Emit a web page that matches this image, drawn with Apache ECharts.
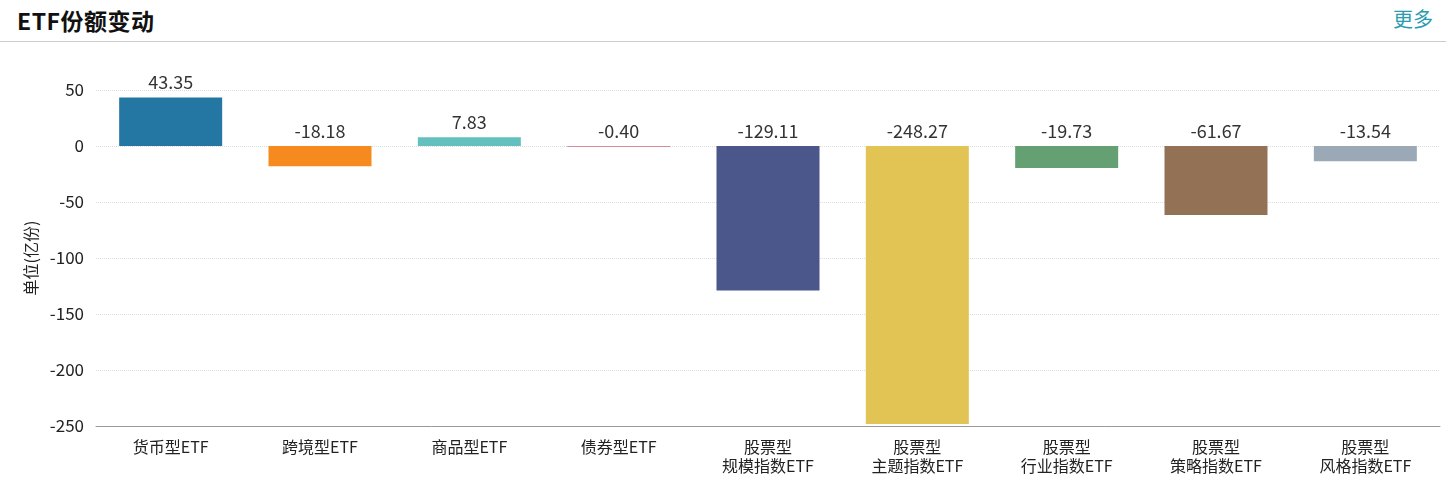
<!DOCTYPE html>
<html><head><meta charset="utf-8">
<script src="https://cdn.jsdelivr.net/npm/echarts@6/dist/echarts.min.js"></script>
<style>
html,body{margin:0;padding:0;background:#fff;width:1446px;height:498px;overflow:hidden;font-family:"Noto Sans CJK SC",sans-serif;}
#hdr{position:absolute;left:0;top:0;width:1446px;height:41px;border-bottom:1px solid #ccc;}
#title{position:absolute;left:17px;top:3px;font-size:23px;font-weight:bold;color:#111;font-family:"Noto Sans CJK SC",sans-serif;letter-spacing:0.5px;}
#more{position:absolute;right:13px;top:4px;font-size:20px;color:#2a9bb0;font-family:"Noto Sans CJK SC",sans-serif;}
#chart{position:absolute;left:0;top:42px;width:1446px;height:456px;}
</style></head>
<body>
<div id="hdr"><div id="title">ETF份额变动</div><div id="more">更多</div></div>
<div id="chart"></div>
<script>
var categories = ['货币型ETF','跨境型ETF','商品型ETF','债券型ETF','股票型\n规模指数ETF','股票型\n主题指数ETF','股票型\n行业指数ETF','股票型\n策略指数ETF','股票型\n风格指数ETF'];
var values = [43.35, -18.18, 7.83, -0.40, -129.11, -248.27, -19.73, -61.67, -13.54];
var colors = ['#2476a3','#f68a1e','#63c0bf','#d68b9b','#4b568b','#e2c455','#64a072','#937154','#9ba8b6'];
var yTicks = [50, 0, -50, -100, -150, -200, -250];

var chart = echarts.init(document.getElementById('chart'));
chart.setOption({
  animation:false,
  grid:{left:96,right:6,top:48,bottom:72},
  xAxis:{type:'category',data:categories,
    axisLine:{onZero:false,lineStyle:{color:'#999'}},
    axisTick:{lineStyle:{color:'#999'},length:6},
    axisLabel:{color:'#222',fontSize:16,lineHeight:19,margin:11,interval:0,fontFamily:'Noto Sans CJK SC'}},
  yAxis:{type:'value',min:yTicks[yTicks.length-1],max:yTicks[0],interval:50,
    name:'单位(亿份)',nameLocation:'middle',nameGap:48,nameRotate:90,
    nameTextStyle:{color:'#222',fontSize:16,fontFamily:'Noto Sans CJK SC'},
    axisLine:{show:false},axisTick:{show:false},
    axisLabel:{color:'#222',fontSize:17,margin:12,fontFamily:'Noto Sans CJK SC'},
    splitLine:{lineStyle:{color:'#ddd',type:'dotted'}}},
  series:[{type:'bar',barWidth:103,barMinHeight:1,
    data:values.map(function(v,i){return {value:v,itemStyle:{color:colors[i]}};}),
    label:{show:true,position:'top',distance:6,color:'#333',fontSize:18,fontFamily:'Noto Sans CJK SC',
      formatter:function(p){return p.value.toFixed(2);}}}]
});
</script>
</body></html>
